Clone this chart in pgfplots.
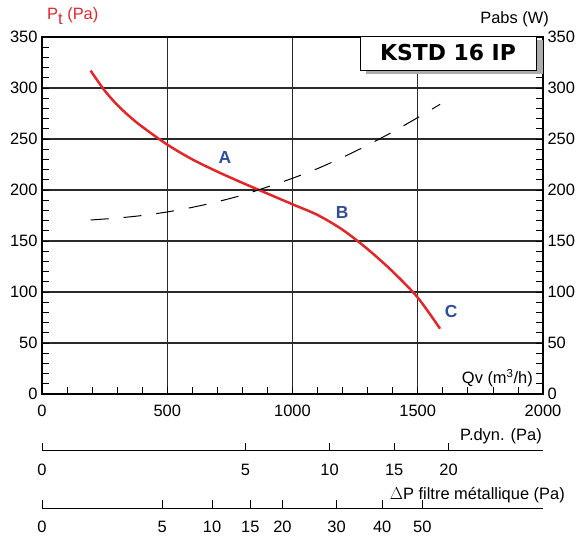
\documentclass[border=0pt]{standalone}
\usepackage{fontspec}
\setmainfont{Liberation Sans}
\newfontfamily\titlefont{DejaVu Sans}
\usepackage{pgfplots}
\pgfplotsset{compat=1.18}
\definecolor{curvered}{HTML}{E3262A}
\definecolor{lblue}{HTML}{2E4D9B}
\definecolor{gridc}{HTML}{2A2A2A}
\begin{document}
\begin{tikzpicture}[font=\fontsize{16.5}{19}\selectfont]
\begin{axis}[
  at={(0,0)}, anchor=south west, scale only axis,
  width=501bp, height=357bp,
  xmin=0, xmax=2000, ymin=0, ymax=350,
  xtick={0,500,...,2000}, ytick={0,50,...,350},
  minor xtick={100,200,...,1900}, minor ytick={10,20,...,340},
  xtick pos=bottom, ytick pos=left,
  tick align=inside,
  major tick length=0bp, minor tick length=7bp,
  every tick/.style={black, line width=0.8pt},
  grid=major, major grid style={gridc, line width=1.3pt},
  axis line style={black, line width=1.2pt},
  /pgf/number format/assume math mode=true,
  /pgf/number format/1000 sep={},
  xticklabel style={yshift=-8bp},
  yticklabel style={xshift=-1bp},
]
\addplot[curvered, line width=2.5pt, smooth] coordinates {
 (194,317) (250,297.5) (300,283.5) (350,272) (400,262) (500,244.5)
 (600,230) (700,218) (800,207) (900,196.5) (1000,186) (1100,175.5)
 (1200,161) (1300,142) (1400,120) (1500,94.5) (1589,64)};
\addplot[black, line width=1pt, smooth, dash pattern=on 18bp off 15bp] coordinates {
 (194,170.6) (300,172.5) (400,175) (500,178.5) (600,183) (700,188.5)
 (800,195) (900,203) (1000,211.5) (1100,221) (1200,232) (1300,244)
 (1400,257) (1500,271) (1589,284)};
\node[lblue, font=\fontsize{17.5}{19}\selectfont\bfseries] at (axis cs:730,232) {A};
\node[lblue, font=\fontsize{17.5}{19}\selectfont\bfseries] at (axis cs:1198,178) {B};
\node[lblue, font=\fontsize{17.5}{19}\selectfont\bfseries] at (axis cs:1633,81) {C};
\node[anchor=east, inner sep=0pt] at (axis cs:1960,15.5) {Qv (m\textsuperscript{3}/h)};
\end{axis}
\begin{axis}[
  at={(0,0)}, anchor=south west, scale only axis,
  width=501bp, height=357bp,
  xmin=0, xmax=2000, ymin=0, ymax=350,
  hide x axis, axis y line*=right,
  ytick={0,50,...,350}, minor ytick={10,20,...,340},
  tick align=inside,
  major tick length=0bp, minor tick length=7bp,
  every tick/.style={black, line width=0.8pt},
  axis line style={black, line width=1.2pt},
  /pgf/number format/assume math mode=true,
  yticklabel style={xshift=1bp},
]
\addplot[draw=none] coordinates {(0,0)};
\end{axis}
% P.dyn scale
\begin{axis}[
  at={(0,-56.7bp)}, anchor=south west, scale only axis,
  width=501bp, height=10bp,
  xmin=0, xmax=2000, ymin=0, ymax=1,
  axis x line*=bottom, axis y line=none,
  x axis line style={-, black, line width=0.9pt},
  xtick={0,811.7,1148,1406,1623}, xticklabels={0,5,10,15,20},
  tick align=inside, major tick length=8bp,
  every tick/.style={black, line width=0.9pt},
  /pgf/number format/assume math mode=true,
  xticklabel style={yshift=-10bp},
]
\addplot[draw=none] coordinates {(0,0)};
\end{axis}
% Delta P scale
\begin{axis}[
  at={(0,-114.3bp)}, anchor=south west, scale only axis,
  width=501bp, height=10bp,
  xmin=0, xmax=2000, ymin=0, ymax=1,
  axis x line*=bottom, axis y line=none,
  x axis line style={-, black, line width=0.9pt},
  xtick={0,480,679,831.5,960,1176,1358,1518}, xticklabels={0,5,10,15,20,30,40,50},
  tick align=inside, major tick length=8bp,
  every tick/.style={black, line width=0.9pt},
  /pgf/number format/assume math mode=true,
  xticklabel style={yshift=-9bp},
]
\addplot[draw=none] coordinates {(0,0)};
\end{axis}
\node[anchor=east, inner sep=0pt] at (500bp,-42bp) {P.dyn. (Pa)};
\node[anchor=east, inner sep=0pt] at (523bp,-101bp) {$\Delta$P filtre métallique (Pa)};
\node[anchor=west, inner sep=0pt, curvered] at (5bp,378bp) {P\raisebox{-5bp}{t} (Pa)};
\node[anchor=east, inner sep=0pt] at (507bp,375bp) {Pabs (W)};
% title box
\fill[gray!65] (324bp,320bp) rectangle (501bp,354bp);
\draw[black, line width=0.8pt, fill=white] (318bp,324bp) rectangle (494bp,358bp);
\node[font=\titlefont\fontsize{22}{24}\selectfont\bfseries] at (406bp,341bp) {KSTD 16 IP};
\pgfresetboundingbox
\path (-42bp,-143bp) rectangle (540bp,394bp);
\end{tikzpicture}
\end{document}
